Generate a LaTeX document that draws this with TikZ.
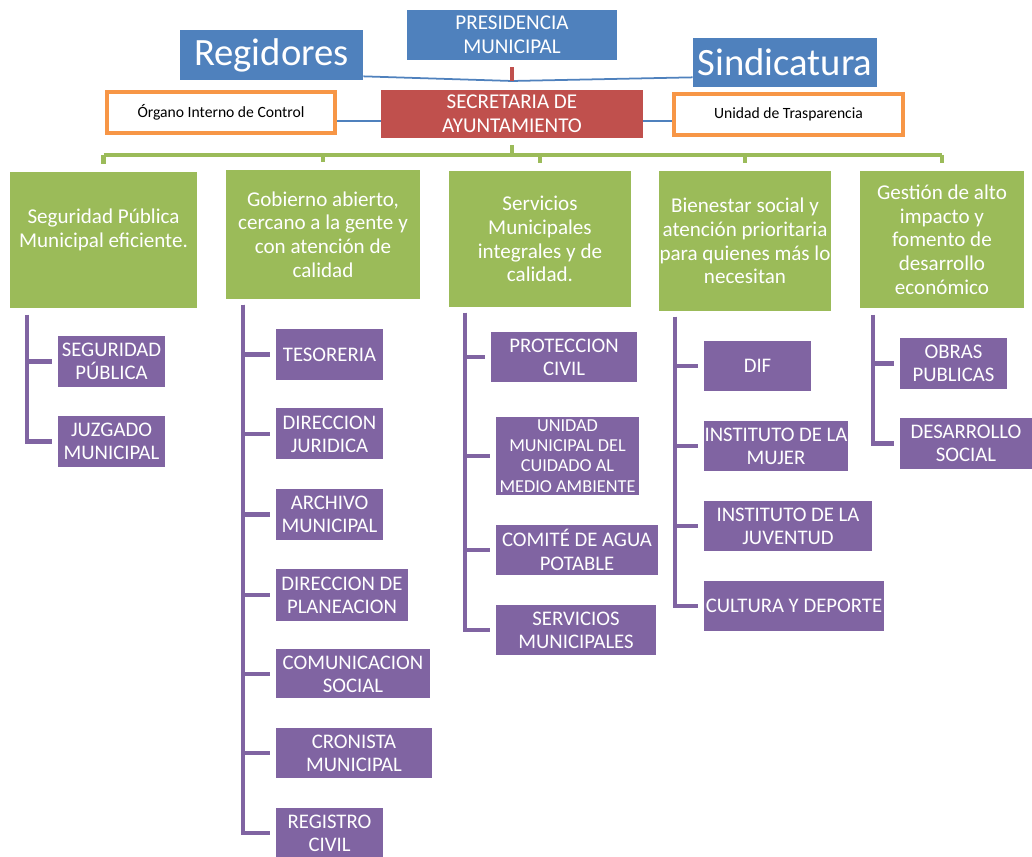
\documentclass[tikz,border=0pt]{standalone}
\usepackage{fontspec}
\setmainfont{Carlito}

\definecolor{pblue}{HTML}{4F81BD}
\definecolor{pred}{HTML}{C0504D}
\definecolor{pgreen}{HTML}{9BBB59}
\definecolor{ppurple}{HTML}{8064A2}
\definecolor{porange}{HTML}{F79646}

\begin{document}
\begin{tikzpicture}[x=0.02cm, y=-0.02cm,
  sz/.style 2 args={minimum width=#1*0.02cm, minimum height=#2*0.02cm},
  bluebox/.style={fill=pblue, text=white, align=center, inner sep=1pt},
  redbox/.style={fill=pred, text=white, align=center, inner sep=1pt,
    font=\fontsize{12}{13.5}\selectfont},
  orbox/.style={draw=porange, line width=2.3pt, fill=white, align=center,
    font=\fontsize{8.9}{10}\selectfont},
  greenbox/.style={fill=pgreen, text=white, align=center, inner xsep=0.5pt,
    font=\fontsize{12}{13.5}\selectfont},
  purbox/.style={fill=ppurple, text=white, align=center, inner xsep=0.5pt,
    inner ysep=1pt, font=\fontsize{11.8}{13.2}\selectfont},
  bline/.style={draw=pblue, line width=1pt},
  rline/.style={draw=pred, line width=2.3pt},
  gline/.style={draw=pgreen, line width=2.5pt},
  pline/.style={draw=ppurple, line width=2.8pt, shorten >=0.11cm}]

  \useasboundingbox (0,0) rectangle (1032,857);

  % 1. Top of the chart
  \node[bluebox, sz={210}{50}, font=\fontsize{12}{13.5}\selectfont] (pres) at (512,35) {PRESIDENCIA\\MUNICIPAL};
  \node[bluebox, sz={183}{50}, font=\fontsize{22}{24}\selectfont] (rgd) at (271.5,55) {Regidores};
  \node[bluebox, sz={184}{49}, font=\fontsize{22}{24}\selectfont] (sin) at (785,62.5) {Sindicatura};
  \node[redbox, sz={262}{48}] (sec) at (512,114) {SECRETARIA DE\\AYUNTAMIENTO};
  \node[orbox, sz={228}{41}] (org) at (221,112.5) {Órgano Interno de Control};
  \node[orbox, sz={229}{41}] (uni) at (788.5,114.5) {Unidad de Trasparencia};

  % 2. Lines between the top boxes
  \coordinate (mid) at (512,81);
  \coordinate (lvl) at (0,121);
  \draw[bline] ([yshift=0.08cm]rgd.south east) -- (mid) -- ([yshift=0.2cm]sin.south west);
  \draw[rline] ([yshift=-0.14cm]pres.south) -- (mid);
  \draw[bline] (org.east |- lvl) -- (sec.west |- lvl);
  \draw[bline] (sec.east |- lvl) -- (uni.west |- lvl);

  % 3. The five axes
  \node[greenbox, sz={187}{136}] (seg) at (103.5,240) {Seguridad Pública\\Municipal eficiente.\\ \mbox{}};
  \node[greenbox, sz={194}{129}] (gob) at (323,234.5) {Gobierno abierto,\\cercano a la gente y\\con atención de\\calidad};
  \node[greenbox, sz={182}{136}] (ser) at (540,239) {Servicios\\Municipales\\integrales y de\\calidad.};
  \node[greenbox, sz={172}{140}] (bie) at (745,241) {Bienestar social y\\atención prioritaria\\para quienes más lo\\necesitan};
  \node[greenbox, sz={164}{137}] (ges) at (942,239.5) {Gestión de alto\\impacto y\\fomento de\\desarrollo\\económico};

  \coordinate (bus) at (512,155);
  \draw[gline] ([yshift=-0.14cm]sec.south) -- (bus);
  \draw[gline] (seg.north |- bus) -- (ges.north |- bus);
  \foreach \g in {seg,gob,ser,bie,ges}
    \draw[gline] (\g.north |- bus) -- ([yshift=0.16cm]\g.north);

  % 4. Areas under each axis
  \node[purbox, sz={107}{51}] (segp) at (111.5,361.5) {SEGURIDAD\\PÚBLICA};
  \node[purbox, sz={107}{51}] (juz) at (111.5,441.5) {JUZGADO\\MUNICIPAL};

  \node[purbox, sz={107}{51}] (tes) at (329.5,354.5) {TESORERIA};
  \node[purbox, sz={107}{51}] (jur) at (329.5,434) {DIRECCION\\JURIDICA};
  \node[purbox, sz={107}{51}] (arc) at (329.5,514.5) {ARCHIVO\\MUNICIPAL};
  \node[purbox, sz={132}{52}] (pla) at (342,595) {DIRECCION DE\\PLANEACION};
  \node[purbox, sz={154}{49}] (com) at (353,674) {COMUNICACION\\SOCIAL};
  \node[purbox, sz={156}{50}] (cro) at (354,753) {CRONISTA\\MUNICIPAL};
  \node[purbox, sz={107}{50}] (rciv) at (329.5,833) {REGISTRO\\CIVIL};

  \node[purbox, sz={146}{50}] (pro) at (564,357) {PROTECCION\\CIVIL};
  \node[purbox, sz={143}{78}, font=\fontsize{10.4}{11.6}\selectfont] (uma) at (567.5,456) {UNIDAD\\MUNICIPAL DEL\\CUIDADO AL\\MEDIO AMBIENTE};
  \node[purbox, sz={162}{50}] (agua) at (577,550) {COMITÉ DE AGUA\\POTABLE};
  \node[purbox, sz={160}{50}] (smun) at (576,630) {SERVICIOS\\MUNICIPALES};

  \node[purbox, sz={107}{50}] (dif) at (757.5,366) {DIF};
  \node[purbox, sz={144}{50}] (muj) at (776,446) {INSTITUTO DE LA\\MUJER};
  \node[purbox, sz={168}{50}] (juv) at (788,526) {INSTITUTO DE LA\\JUVENTUD};
  \node[purbox, sz={180}{50}] (cul) at (794,606) {CULTURA Y DEPORTE};

  \node[purbox, sz={107}{51}] (obr) at (953.5,363.5) {OBRAS\\PUBLICAS};
  \node[purbox, sz={132}{51}] (des) at (966,443.5) {DESARROLLO\\SOCIAL};

  % 5. Trunks of the trees
  \coordinate (t1) at (27,315);
  \coordinate (t2) at (243,305);
  \coordinate (t3) at (465,313);
  \coordinate (t4) at (675,317);
  \coordinate (t5) at (873,315);
  \foreach \b in {segp,juz} \draw[pline] (t1) |- (\b);
  \foreach \b in {tes,jur,arc,pla,com,cro,rciv} \draw[pline] (t2) |- (\b);
  \foreach \b in {pro,uma,agua,smun} \draw[pline] (t3) |- (\b);
  \foreach \b in {dif,muj,juv,cul} \draw[pline] (t4) |- (\b);
  \foreach \b in {obr,des} \draw[pline] (t5) |- (\b);
\end{tikzpicture}
\end{document}
